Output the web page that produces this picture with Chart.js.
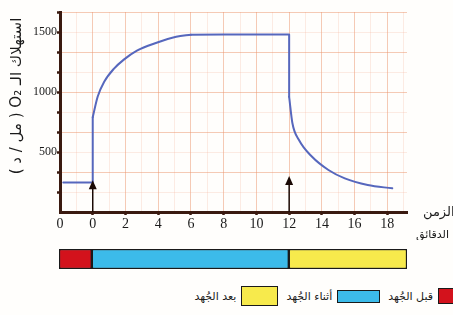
<!DOCTYPE html>
<html lang="ar">
<head>
<meta charset="utf-8">
<script src="https://cdn.jsdelivr.net/npm/chart.js@4.4.1/dist/chart.umd.min.js"></script>
<style>
  html, body { margin: 0; padding: 0; background: #fff; }
  #wrap { position: relative; width: 453px; height: 315px; overflow: hidden; background: #fffefc; }
  #o2Chart { position: absolute; left: 0; top: 0; }
  #phaseChart { position: absolute; left: 0; top: 248px; }
  #legend {
    position: absolute; top: 286px; right: -1px;
    display: flex; direction: rtl; align-items: center;
    font-family: 'DejaVu Sans', sans-serif; font-size: 11px; color: #1a1a1a;
  }
  #legend .item { display: flex; align-items: center; margin-left: 8px; }
  #legend .box { border: 1.5px solid #1a1a1a; box-sizing: border-box; margin-left: 5px; }
</style>
</head>
<body>
<div id="wrap">
  <canvas id="o2Chart" width="453" height="240"></canvas>
  <canvas id="phaseChart" width="453" height="22"></canvas>
  <div id="legend"></div>
</div>
<script>
// O2 consumption curve (minutes, ml/min)
const minutes = [-1.8, 0, 0, 0.3, 0.7, 1.3, 1.9, 2.7, 3.9, 5.1, 6, 8, 10, 12, 12, 12.2, 12.6, 13.4, 14.4, 15.4, 16.8, 18.3];
const o2Values = [245, 245, 790, 960, 1085, 1195, 1270, 1345, 1410, 1460, 1478, 1480, 1480, 1480, 960, 740, 600, 460, 350, 280, 225, 197];
// pieces of the curve: [first index, last index, smooth?]
const curvePieces = [[0, 2, false], [2, 10, true], [10, 14, false], [14, 21, true]];

// axis ticks
const timeTicks = [-2, 0, 2, 4, 6, 8, 10, 12, 14, 16, 18];
const timeTickLabels = ['0', '0', '2', '4', '6', '8', '10', '12', '14', '16', '18'];
const yTickLabels = [500, 1000, 1500];
const yTitle = 'استهلاك الـ O₂ ( مل / د )';

// exercise phases
const phaseLabels = ['قبل الجُهد', 'أثناء الجُهد', 'بعد الجُهد'];
const phaseRanges = [[-2, 0], [0, 12], [12, 19.2]];
const phaseColors = ['#d3121c', '#3cbbea', '#f7ea4c'];

// arrows marking start / end of exercise (minute, tip value)
const arrowTimes = [0, 12];
const arrowTips = [265, 300];

const xMin = -2, xMax = 19.2;
const yMax = 5000 / 3;
const yStep = 500 / 3;

const axisColor = '#3a1a10';
const majorGrid = 'rgba(236, 150, 110, 0.5)';
const minorGrid = 'rgba(240, 170, 140, 0.22)';

const arrowPlugin = {
  id: 'arrows',
  afterDatasetsDraw(chart) {
    const { ctx, scales: { x, y } } = chart;
    ctx.save();
    arrowTimes.forEach((t, i) => {
      const px = x.getPixelForValue(t);
      const base = y.getPixelForValue(0);
      const tip = y.getPixelForValue(arrowTips[i]);
      ctx.strokeStyle = '#1a0a05';
      ctx.fillStyle = '#1a0a05';
      ctx.lineWidth = 1.5;
      ctx.beginPath();
      ctx.moveTo(px, base);
      ctx.lineTo(px, tip + 6);
      ctx.stroke();
      ctx.beginPath();
      ctx.moveTo(px, tip);
      ctx.lineTo(px - 4, tip + 9);
      ctx.lineTo(px + 4, tip + 9);
      ctx.closePath();
      ctx.fill();
    });
    ctx.restore();
  }
};

const textPlugin = {
  id: 'axisTexts',
  afterDraw(chart) {
    const { ctx, chartArea } = chart;
    ctx.save();
    ctx.direction = 'rtl';
    ctx.fillStyle = '#1a1a1a';
    ctx.textBaseline = 'middle';
    // x axis title at the right end
    ctx.textAlign = 'left';
    ctx.font = '13px "DejaVu Sans", sans-serif';
    ctx.fillText('الزمن', chartArea.right + 16, chartArea.bottom + 1);
    ctx.font = '11px "DejaVu Sans", sans-serif';
    ctx.fillText('الدقائق', chartArea.right + 9, chartArea.bottom + 23);
    // y axis title, rotated
    ctx.translate(17, 96);
    ctx.rotate(-Math.PI / 2);
    ctx.textAlign = 'center';
    ctx.font = '15px "DejaVu Sans", sans-serif';
    ctx.fillText(yTitle, 0, 0);
    ctx.restore();
  }
};

const curveDatasets = curvePieces.map(([a, b, smooth]) => ({
  data: minutes.slice(a, b + 1).map((m, i) => ({ x: m, y: o2Values[a + i] })),
  borderColor: '#5667bd',
  borderWidth: 2,
  pointRadius: 0,
  tension: 0,
  cubicInterpolationMode: smooth ? 'monotone' : 'default',
  borderCapStyle: 'round',
  borderJoinStyle: 'round',
  fill: false
}));

const o2Chart = new Chart(document.getElementById('o2Chart'), {
  type: 'line',
  data: { datasets: curveDatasets },
  options: {
    responsive: false,
    animation: false,
    layout: { padding: { left: 0, right: 46, top: 12, bottom: 0 } },
    plugins: { legend: { display: false }, tooltip: { enabled: false } },
    scales: {
      x: {
        type: 'linear',
        min: xMin,
        max: xMax,
        afterBuildTicks(scale) {
          const ticks = [];
          for (let v = -2; v <= 19; v++) ticks.push({ value: v });
          scale.ticks = ticks;
        },
        afterFit(scale) { scale.height = 28; },
        border: { color: axisColor, width: 3 },
        grid: {
          color: c => (c.tick && c.tick.value % 2 === 0) ? majorGrid : minorGrid,
          lineWidth: 1,
          tickLength: 3,
          tickColor: c => (c.tick && c.tick.value % 2 === 0 && c.tick.value >= 0) ? axisColor : 'rgba(0,0,0,0)',
          tickWidth: 2.5
        },
        ticks: {
          autoSkip: false,
          maxRotation: 0,
          padding: 1,
          color: '#1a1a1a',
          font: { family: '"Liberation Serif", serif', size: 14 },
          callback: v => {
            const i = timeTicks.indexOf(v);
            return i >= 0 ? timeTickLabels[i] : '';
          }
        }
      },
      y: {
        min: 0,
        max: yMax,
        afterBuildTicks(scale) {
          const ticks = [];
          for (let i = 0; i <= 10; i++) ticks.push({ value: i * yStep });
          scale.ticks = ticks;
        },
        afterFit(scale) { scale.width = 60; },
        border: { color: axisColor, width: 3 },
        grid: {
          color: c => (c.index % 2 === 0) ? majorGrid : minorGrid,
          lineWidth: 1,
          tickLength: 3,
          tickColor: c => c.index > 0 ? axisColor : 'rgba(0,0,0,0)',
          tickWidth: 2.5
        },
        ticks: {
          autoSkip: false,
          padding: 0,
          color: '#1a1a1a',
          font: { family: '"Liberation Serif", serif', size: 12 },
          callback: v => yTickLabels.includes(Math.round(v)) ? String(Math.round(v)) : ''
        }
      }
    }
  },
  plugins: [arrowPlugin, textPlugin]
});

new Chart(document.getElementById('phaseChart'), {
  type: 'bar',
  data: {
    labels: ['phase'],
    datasets: phaseLabels.map((label, i) => ({
      label,
      data: [phaseRanges[i]],
      backgroundColor: phaseColors[i],
      borderColor: '#1a1a1a',
      borderWidth: 1.5,
      borderSkipped: false,
      grouped: false,
      barPercentage: 1,
      categoryPercentage: 1
    }))
  },
  options: {
    indexAxis: 'y',
    responsive: false,
    animation: false,
    layout: { padding: { left: 59, right: 46, top: 1, bottom: 1 } },
    plugins: { legend: { display: false }, tooltip: { enabled: false } },
    scales: {
      x: { display: false, min: xMin, max: xMax },
      y: { display: false }
    }
  }
});

// legend, right to left
const legendBoxSizes = [[16, 16], [43, 13], [37, 20]];
const legend = document.getElementById('legend');
phaseLabels.forEach((label, i) => {
  const item = document.createElement('div');
  item.className = 'item';
  const box = document.createElement('span');
  box.className = 'box';
  box.style.background = phaseColors[i];
  box.style.width = legendBoxSizes[i][0] + 'px';
  box.style.height = legendBoxSizes[i][1] + 'px';
  const text = document.createElement('span');
  text.textContent = label;
  item.appendChild(box);
  item.appendChild(text);
  legend.appendChild(item);
});
</script>
</body>
</html>
